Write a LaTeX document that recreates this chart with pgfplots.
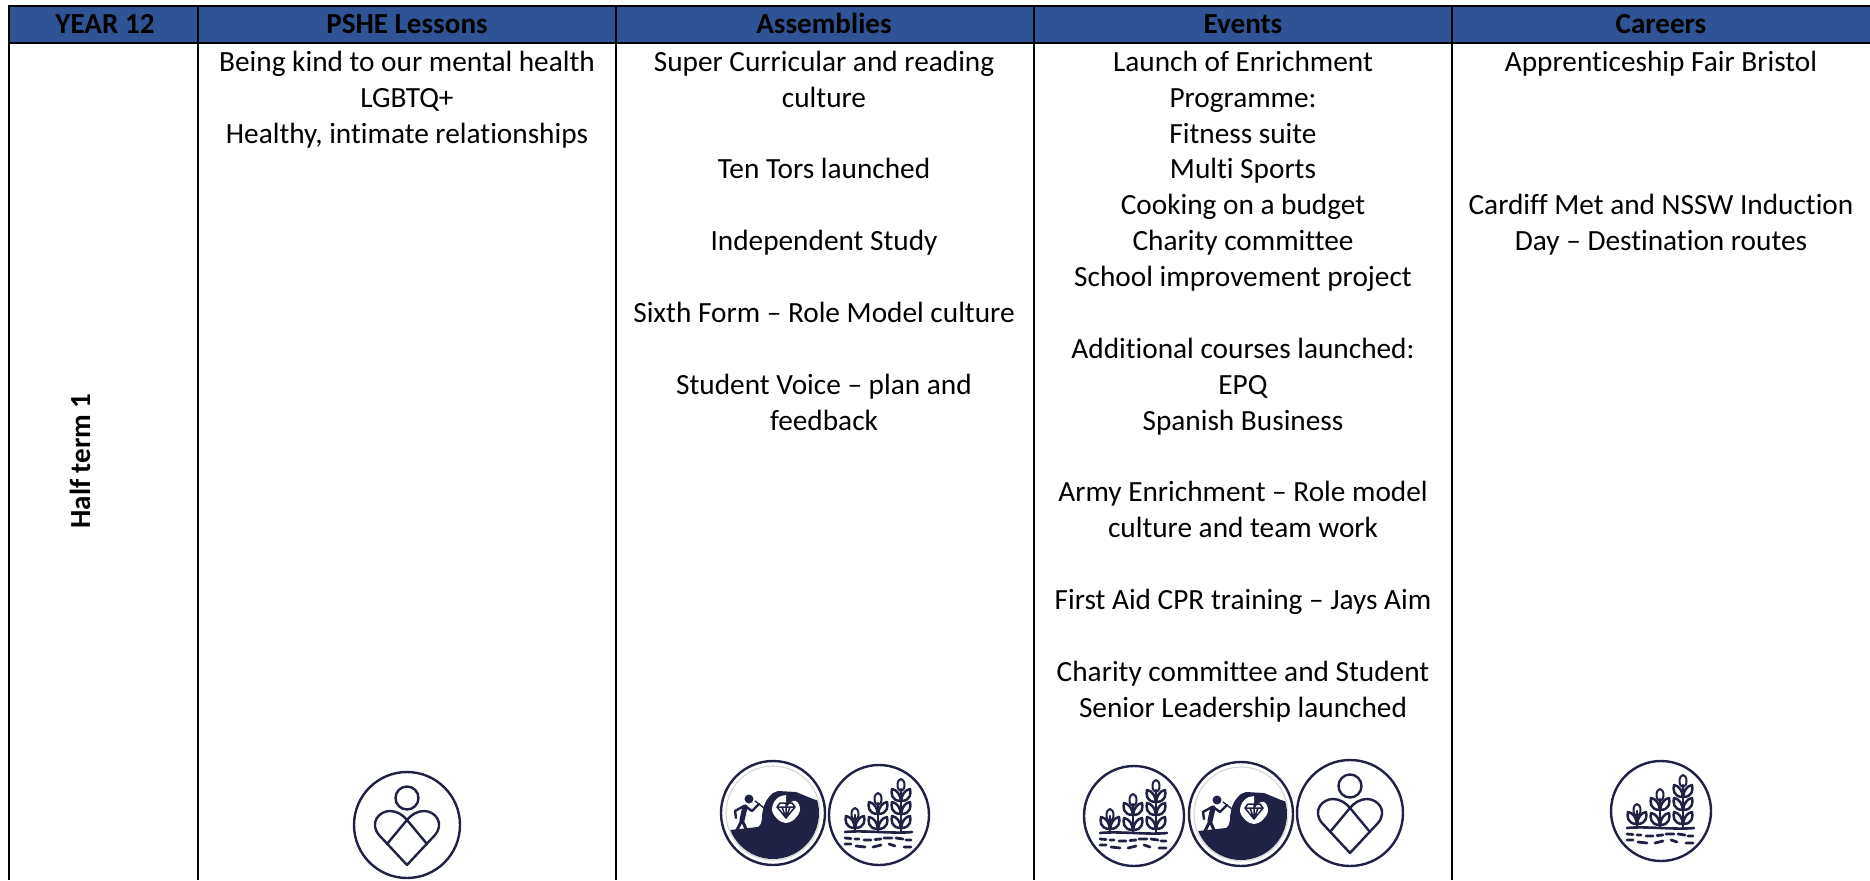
\documentclass[border=0pt]{standalone}
\usepackage{pgfplots}
\pgfplotsset{compat=1.18}
\usepackage{fontspec}
\setmainfont[Ligatures=NoCommon]{Carlito}
\definecolor{hdr}{HTML}{2F5496}
\definecolor{ink}{HTML}{1F2145}
\newcommand{\bodyf}{\fontsize{14.65}{17}\selectfont}
\newcommand{\bhead}{\fontsize{14.55}{17}\selectfont\bfseries}
\tikzset{cell/.style={anchor=base,inner sep=0pt,outer sep=0pt,font=\bodyf,text=black,yshift=-0.7pt},
         head/.style={anchor=base,inner sep=0pt,outer sep=0pt,font=\bhead,text=black}}
% Icons are drawn in reference pixels about their centre
\newcommand{\iconscope}[2]{\begin{scope}[shift={(#1*0.5pt,440pt-#2*0.5pt)},x=0.5pt,y=-0.5pt,draw=ink,line width=1.2pt,line join=round,line cap=round]}
\newcommand{\hearticon}[2]{\iconscope{#1}{#2}
  \draw (0,0) circle (53);
  \draw (0,-27) circle (11.5);
  \draw (0,40) -- (-28,10) .. controls (-38,-2) and (-28,-14) .. (-17,-14) .. controls (-10,-14) and (-4,-10) .. (0,-5) .. controls (4,-10) and (10,-14) .. (17,-14) .. controls (28,-14) and (38,-2) .. (28,10) -- cycle;
  \draw (-20,19) -- (0,-5) -- (20,19);
  \end{scope}}
\newcommand{\leafpair}[2]{%
  \draw[line width=1.25pt] (#1,#2+6) .. controls (#1-10,#2+6) and (#1-10,#2-2) .. (#1-9,#2-6) .. controls (#1-4,#2-5) and (#1-1,#2-1) .. (#1,#2+6);
  \draw[line width=1.25pt] (#1,#2+6) .. controls (#1+10,#2+6) and (#1+10,#2-2) .. (#1+9,#2-6) .. controls (#1+4,#2-5) and (#1+1,#2-1) .. (#1,#2+6);}
\newcommand{\planticon}[2]{\iconscope{#1}{#2}
  \draw (0,0) circle (50);
  \draw[line width=1.3pt] (-34,17) .. controls (-15,15) and (15,19) .. (33,17);
  \draw (-24,17) -- (-24,0); \draw (-1,17) -- (-1,-12); \draw (22,17) -- (22,-26);
  \draw[line width=1pt] (-24,-1) ellipse (3.5 and 6);
  \draw[line width=1pt] (-1,-16) ellipse (3.5 and 6);
  \draw[line width=1pt] (22,-30) ellipse (3.5 and 6);
  \leafpair{-24}{7}
  \leafpair{-1}{-7} \leafpair{-1}{8}
  \leafpair{22}{-20} \leafpair{22}{-7} \leafpair{22}{7}
  \draw[line width=1.4pt] (-34,23) -- (-28,23.5) (-24,24) -- (-20,24) (-15,25) -- (-8,25) (-4,24.5) -- (2,24) (5,23) -- (13,23) (17,23) -- (24,24) (27,25) -- (32,25);
  \draw[line width=1.4pt] (-34,29) -- (-28,29) (-23,31) -- (-14,32) (-6,32) -- (2,30) (10,29) -- (16,31) (25,32) -- (32,32);
  \end{scope}}
\newcommand{\minericon}[2]{\iconscope{#1}{#2}
  \draw (0,0) circle (52);
  \draw[gray!30,line width=0.6pt] (0,0) circle (47);
  \begin{scope}
  \clip (0,0) circle (46);
  \fill[ink] (-50,18) -- (-43,17) -- (-15,14) .. controls (-9,10) and (-12,2) .. (-10,-3) .. controls (-9,-10) and (-5,-16) .. (0,-20) -- (5,-22) -- (23,-21) -- (40,-14) -- (60,-8) -- (60,60) -- (-50,60) -- cycle;
  \end{scope}
  \fill[white] (13,-4) .. controls (20,-18) and (27,-12) .. (27,-3) .. controls (26,4) and (18,10) .. (13,10) .. controls (8,10) and (0,4) .. (-1,-3) .. controls (-1,-12) and (6,-18) .. (13,-18) -- cycle;
  \draw[line width=0.75pt] (4,-6) -- (7,-10) -- (19,-10) -- (22,-6) -- (13,5) -- cycle (4,-6) -- (22,-6) (9,-6) -- (13,5) -- (17,-6) (13,-10) -- (13,5);
  \fill[ink] (-24,-14) circle (4.5);
  \draw[line width=2.6pt] (-28,-6) -- (-31,7);
  \draw[line width=1.5pt] (-31,7) -- (-36,17) (-31,7) -- (-27,16);
  \draw[line width=1.2pt] (-29,-7) -- (-38,-2) -- (-37,5) (-28,-7) -- (-21,-2) -- (-14,-9);
  \draw[line width=0.7pt] (-18,-12) -- (-9,-5);
  \end{scope}}
\begin{document}
\begin{tikzpicture}
\useasboundingbox (0pt,0pt) rectangle (935pt,440pt);
\begin{axis}[
  at={(0pt,0pt)}, anchor=south west,
  scale only axis, width=935pt, height=440pt,
  xmin=0, xmax=1870, ymin=0, ymax=880, y dir=reverse,
  axis lines=none, clip=false,
  xtick=\empty, ytick=\empty,
]
% header band
\addplot[fill=hdr, draw=none] coordinates {(9,6) (1870,6) (1870,43) (9,43)} --cycle;
% grid
\addplot[black, line width=1.25pt] coordinates {(9,6) (1870,6)};
\addplot[black, line width=1.25pt] coordinates {(9,43) (1870,43)};
\addplot[black, line width=1.25pt] coordinates {(9,5.4) (9,880)};
\addplot[black, line width=1.25pt] coordinates {(198,6) (198,880)};
\addplot[black, line width=1.25pt] coordinates {(616,6) (616,880)};
\addplot[black, line width=1.25pt] coordinates {(1034,6) (1034,880)};
\addplot[black, line width=1.25pt] coordinates {(1452,6) (1452,880)};
% header text
\node[head] at (axis cs:105,33) {YEAR 12};
\node[head] at (axis cs:407,33) {PSHE Lessons};
\node[head] at (axis cs:824,33) {Assemblies};
\node[head] at (axis cs:1243,33) {Events};
\node[head] at (axis cs:1661,33) {Careers};
% side label
\node[head, rotate=90, anchor=center] at (axis cs:80,461) {Half term 1};
% PSHE
\node[cell] at (axis cs:407,70) {Being kind to our mental health};
\node[cell] at (axis cs:407,106) {LGBTQ+};
\node[cell] at (axis cs:407,142) {Healthy, intimate relationships};
% Assemblies
\node[cell] at (axis cs:824,70) {Super Curricular and reading};
\node[cell] at (axis cs:824,106) {culture};
\node[cell] at (axis cs:824,177.5) {Ten Tors launched};
\node[cell] at (axis cs:824,249) {Independent Study};
\node[cell] at (axis cs:824,321) {Sixth Form – Role Model culture};
\node[cell] at (axis cs:824,393) {Student Voice – plan and};
\node[cell] at (axis cs:824,429) {feedback};
% Events
\node[cell] at (axis cs:1243,70) {Launch of Enrichment};
\node[cell] at (axis cs:1243,106) {Programme:};
\node[cell] at (axis cs:1243,142) {Fitness suite};
\node[cell] at (axis cs:1243,177.5) {Multi Sports};
\node[cell] at (axis cs:1243,213.5) {Cooking on a budget};
\node[cell] at (axis cs:1243,249) {Charity committee};
\node[cell] at (axis cs:1243,285) {School improvement project};
\node[cell] at (axis cs:1243,357) {Additional courses launched:};
\node[cell] at (axis cs:1243,393) {EPQ};
\node[cell] at (axis cs:1243,429) {Spanish Business};
\node[cell] at (axis cs:1243,500.5) {Army Enrichment – Role model};
\node[cell] at (axis cs:1243,536.5) {culture and team work};
\node[cell] at (axis cs:1243,608) {First Aid CPR training – Jays Aim};
\node[cell] at (axis cs:1243,680) {Charity committee and Student};
\node[cell] at (axis cs:1243,716) {Senior Leadership launched};
% Careers
\node[cell] at (axis cs:1661,70) {Apprenticeship Fair Bristol};
\node[cell] at (axis cs:1661,213.5) {Cardiff Met and NSSW Induction};
\node[cell] at (axis cs:1661,249) {Day – Destination routes};
\end{axis}
% badges, in reference pixels from the axis's lower left corner
\hearticon{407}{825}
\minericon{773}{813}
\planticon{879}{815}
\planticon{1134}{816}
\minericon{1241}{814}
\hearticon{1350}{813}
\planticon{1661}{811}
\end{tikzpicture}
\end{document}
